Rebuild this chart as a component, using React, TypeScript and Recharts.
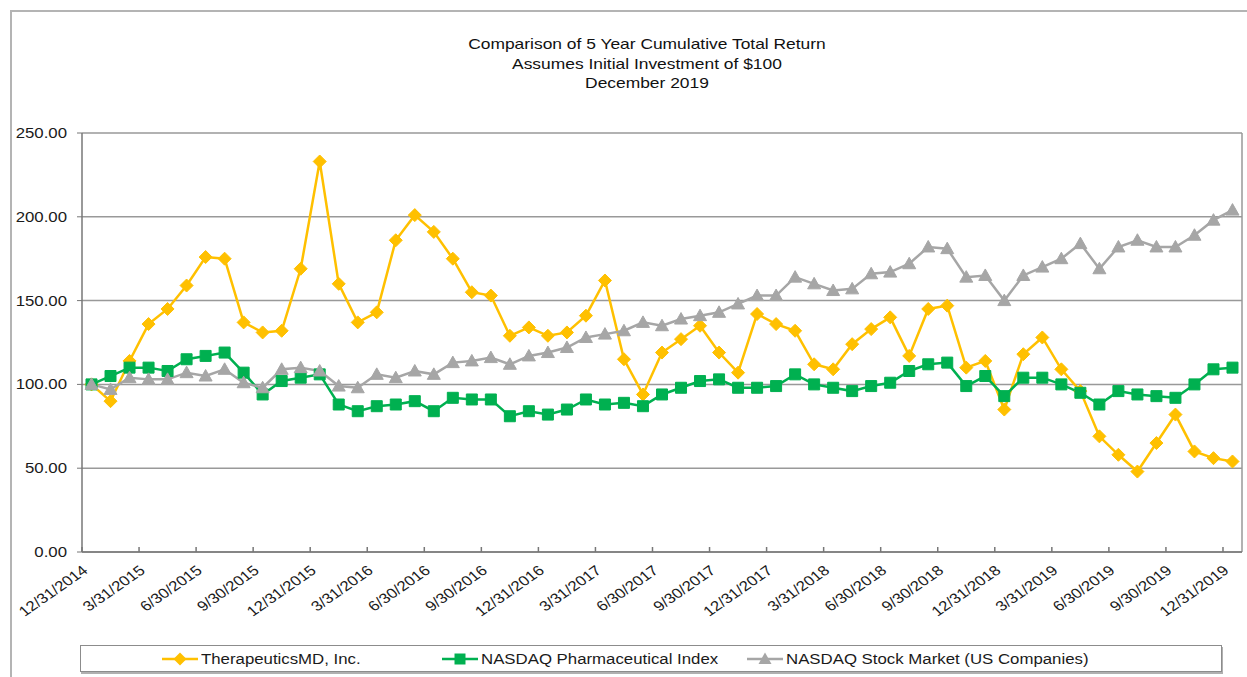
import React from 'react'
import { LineChart, Line, XAxis, YAxis, CartesianGrid, ReferenceLine } from 'recharts'

// month-end values, 12/31/2014 .. 12/31/2019
const THERAPEUTICS = [
  100, 90, 114, 136, 145, 159, 176, 175, 137, 131,
  132, 169, 233, 160, 137, 143, 186, 201, 191, 175,
  155, 153, 129, 134, 129, 131, 141, 162, 115, 94,
  119, 127, 135, 119, 107, 142, 136, 132, 112, 109,
  124, 133, 140, 117, 145, 147, 110, 114, 85, 118,
  128, 109, 96, 69, 58, 48, 65, 82, 60, 56,
  54,
]
const PHARMA = [
  100, 105, 110, 110, 108, 115, 117, 119, 107, 94,
  102, 104, 106, 88, 84, 87, 88, 90, 84, 92,
  91, 91, 81, 84, 82, 85, 91, 88, 89, 87,
  94, 98, 102, 103, 98, 98, 99, 106, 100, 98,
  96, 99, 101, 108, 112, 113, 99, 105, 93, 104,
  104, 100, 95, 88, 96, 94, 93, 92, 100, 109,
  110,
]
const NASDAQ = [
  100, 97, 104, 103, 103, 107, 105, 109, 101, 98,
  109, 110, 108, 99, 98, 106, 104, 108, 106, 113,
  114, 116, 112, 117, 119, 122, 128, 130, 132, 137,
  135, 139, 141, 143, 148, 153, 153, 164, 160, 156,
  157, 166, 167, 172, 182, 181, 164, 165, 150, 165,
  170, 175, 184, 169, 182, 186, 182, 182, 189, 198,
  204,
]

const QUARTER_LABELS = [
  '12/31/2014', '3/31/2015', '6/30/2015', '9/30/2015', '12/31/2015',
  '3/31/2016', '6/30/2016', '9/30/2016', '12/31/2016', '3/31/2017',
  '6/30/2017', '9/30/2017', '12/31/2017', '3/31/2018', '6/30/2018',
  '9/30/2018', '12/31/2018', '3/31/2019', '6/30/2019', '9/30/2019',
  '12/31/2019',
]

const Y_TICKS = [0, 50, 100, 150, 200, 250]

const SERIES = [
  { key: 'tmdx', name: 'TherapeuticsMD, Inc.', color: '#FFC000', shape: 'diamond' },
  { key: 'pharma', name: 'NASDAQ Pharmaceutical Index', color: '#00B050', shape: 'square' },
  { key: 'nasdaq', name: 'NASDAQ Stock Market (US Companies)', color: '#A6A6A6', shape: 'triangle' },
]

const data = THERAPEUTICS.map((v, i) => ({
  idx: i,
  tmdx: v,
  pharma: PHARMA[i],
  nasdaq: NASDAQ[i],
}))

// category boundaries (Excel style, ticks between months)
const xTicks = QUARTER_LABELS.map((_, k) => k * 3 - 0.5)

const FONT = '"Liberation Sans", Arial, sans-serif'
const STRETCH = 1.2

function markerPath(shape: string, cx: number, cy: number) {
  if (shape === 'diamond') return `M${cx},${cy - 6.5}L${cx + 6.5},${cy}L${cx},${cy + 6.5}L${cx - 6.5},${cy}Z`
  if (shape === 'square') return `M${cx - 5.5},${cy - 5.5}h11v11h-11Z`
  return `M${cx},${cy - 6.5}L${cx + 6.5},${cy + 5}L${cx - 6.5},${cy + 5}Z`
}

function makeDot(shape: string, color: string) {
  return (props: any) => {
    const { cx, cy, index } = props
    if (cx == null || cy == null) return <g key={index} />
    return <path key={index} d={markerPath(shape, cx, cy)} fill={color} stroke={color} strokeWidth={1} />
  }
}

function XTick(props: any) {
  const { x, y, payload } = props
  const label = QUARTER_LABELS[Math.round((payload.value + 0.5) / 3)]
  return (
    <g>
      <line x1={x} x2={x} y1={y - 5} y2={y} stroke="#777" strokeWidth={1.5} />
      <text
        transform={`translate(${x + 7},${y + 20}) scale(${STRETCH},1) rotate(-40)`}
        textAnchor="end"
        fontSize={14}
        fontFamily={FONT}
        fill="#1a1a1a"
      >
        {label}
      </text>
    </g>
  )
}

function YTick(props: any) {
  const { x, y, payload } = props
  return (
    <text
      transform={`translate(${x},${y + 5}) scale(${STRETCH},1)`}
      textAnchor="end"
      fontSize={14}
      fontFamily={FONT}
      fill="#1a1a1a"
    >
      {payload.value.toFixed(2)}
    </text>
  )
}

function LegendBox() {
  const pos = [160, 440, 745]
  return (
    <div
      style={{
        position: 'absolute',
        left: 80,
        top: 645,
        width: 1140,
        height: 25,
        border: '1px solid #8c8c8c',
        boxShadow: '1px 2px 0 #b0b0b0',
        background: '#fff',
      }}
    >
      {SERIES.map((s, i) => (
        <div
          key={s.key}
          style={{ position: 'absolute', left: pos[i] - 80, top: 0, height: 25, display: 'flex', alignItems: 'center' }}
        >
          <svg width={38} height={16}>
            <line x1={1} x2={37} y1={8} y2={8} stroke={s.color} strokeWidth={2.5} />
            <path d={markerPath(s.shape, 19, 8)} fill={s.color} />
          </svg>
          <span
            style={{
              fontFamily: FONT,
              fontSize: 14,
              color: '#1a1a1a',
              marginLeft: 2,
              display: 'inline-block',
              transform: `scaleX(${STRETCH})`,
              transformOrigin: 'left center',
              whiteSpace: 'nowrap',
            }}
          >
            {s.name}
          </span>
        </div>
      ))}
    </div>
  )
}

export default function App() {
  return (
    <div style={{ position: 'fixed', left: 0, top: 0, width: 1247, height: 677, overflow: 'hidden', background: '#fff' }}>
      <div
        style={{
          position: 'absolute',
          left: 10,
          top: 10,
          width: 1260,
          height: 700,
          borderLeft: '2px solid #b4b4b4',
          borderTop: '2px solid #b4b4b4',
        }}
      />
      <div
        style={{
          position: 'absolute',
          left: 0,
          width: 1294,
          top: 35,
          textAlign: 'center',
          fontFamily: FONT,
          fontSize: 14.5,
          lineHeight: '19.5px',
          color: '#111',
        }}
      >
        <div style={{ display: 'inline-block', transform: `scaleX(${STRETCH})` }}>
          Comparison of 5 Year Cumulative Total Return
          <br />
          Assumes Initial Investment of $100
          <br />
          December 2019
        </div>
      </div>
      <div style={{ position: 'absolute', left: 0, top: 0 }}>
        <LineChart width={1247} height={677} data={data} margin={{ top: 133, right: 5, bottom: 5, left: 0 }}>
          <CartesianGrid vertical={false} stroke="#999" strokeWidth={1.5} />
          <XAxis
            dataKey="idx"
            type="number"
            domain={[-0.5, 60.5]}
            ticks={xTicks}
            interval={0}
            height={120}
            tickLine={false}
            tickSize={0}
            tickMargin={0}
            axisLine={{ stroke: '#777', strokeWidth: 1.5 }}
            tick={<XTick />}
          />
          <YAxis
            type="number"
            domain={[0, 250]}
            ticks={Y_TICKS}
            interval={0}
            width={82}
            tickSize={5}
            tickMargin={10}
            tickLine={{ stroke: '#777' }}
            axisLine={{ stroke: '#777', strokeWidth: 1.5 }}
            tick={<YTick />}
          />
          <ReferenceLine x={60.5} stroke="#999" strokeWidth={1.5} />
          {SERIES.map((s) => (
            <Line
              key={s.key}
              dataKey={s.key}
              name={s.name}
              type="linear"
              stroke={s.color}
              strokeWidth={2.5}
              dot={makeDot(s.shape, s.color)}
              activeDot={false}
              isAnimationActive={false}
            />
          ))}
        </LineChart>
      </div>
      <LegendBox />
    </div>
  )
}
